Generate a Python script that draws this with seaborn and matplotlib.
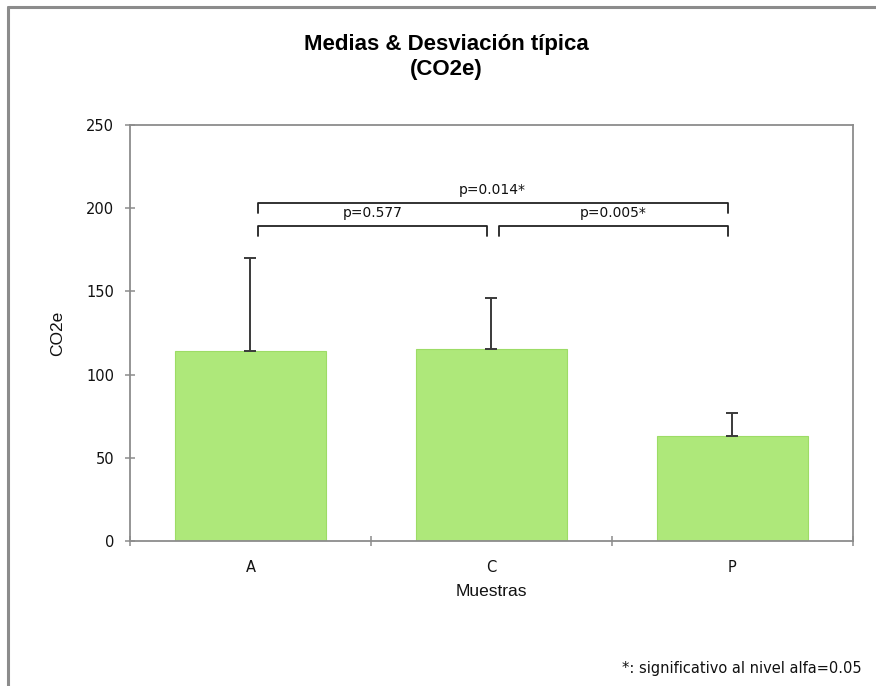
import matplotlib
matplotlib.use("Agg")
import matplotlib.pyplot as plt
import seaborn as sns
from matplotlib.lines import Line2D

# Data
muestras = ["A", "C", "P"]
medias = [114, 115.5, 63]
desviacion = [56, 30.5, 14]

# Pairwise comparisons (bracket from sample to sample) and their labels
comparaciones = [("A", "C"), ("C", "P"), ("A", "P")]
p_valores = ["p=0.577", "p=0.005*", "p=0.014*"]
alturas = [189, 189, 203]

y_ticks = [0, 50, 100, 150, 200, 250]

GREY = "#8c8c8c"
BAR_COLOR = "#aee87a"
TEXT = "#111111"

sns.set_style("white")
plt.rcParams["font.family"] = ["DejaVu Sans"]

fig = plt.figure(figsize=(8.76, 6.86), dpi=100)
ax = fig.add_axes([0.1484, 0.2114, 0.8253, 0.6064])

sns.barplot(
    x=muestras,
    y=medias,
    color=BAR_COLOR,
    saturation=1,
    width=0.63,
    errorbar=None,
    edgecolor="#9ddc66",
    linewidth=0.8,
    ax=ax,
)

# Upper-only standard deviation bars
pos = list(range(len(muestras)))
ax.errorbar(
    pos, medias,
    yerr=[[0] * len(desviacion), desviacion],
    fmt="none", ecolor="#3a3a3a", elinewidth=1.4,
    capsize=4.5, capthick=1.4, zorder=5,
)

# Significance brackets
for (a, b), label, h in zip(comparaciones, p_valores, alturas):
    x1 = muestras.index(a) + 0.03
    x2 = muestras.index(b) - 0.02
    ax.plot([x1, x1, x2, x2], [h - 6, h, h, h - 6], color="#222222", lw=1.3)
    ax.text((x1 + x2) / 2, h + 8, label, ha="center", va="center",
            fontsize=10, color=TEXT)

ax.set_xlim(-0.5, len(muestras) - 0.5)
ax.set_ylim(0, 250)
ax.set_yticks(y_ticks)
ax.set_yticklabels([str(v) for v in y_ticks], fontsize=10.5, color=TEXT)

# category separator ticks on the x axis
ax.set_xticks([i - 0.5 for i in range(len(muestras) + 1)], minor=True)
ax.tick_params(axis="x", which="major", length=0, pad=14, labelsize=10.5,
               labelcolor=TEXT, bottom=True)
ax.tick_params(axis="x", which="minor", length=7, direction="inout",
               color=GREY, width=1.1, bottom=True)
ax.tick_params(axis="y", which="major", length=7, direction="inout",
               color=GREY, width=1.1, pad=8, left=True)

for sp in ax.spines.values():
    sp.set_visible(True)
    sp.set_color(GREY)
    sp.set_linewidth(1.3)

ax.set_xlabel("Muestras", fontsize=12.5, family="Liberation Sans",
              labelpad=6, color=TEXT)
ax.set_ylabel("CO2e", fontsize=12.5, family="Liberation Sans",
              labelpad=15, color=TEXT)

fig.text(0.509, 0.917, "Medias & Desviación típica\n(CO2e)",
         ha="center", va="center", fontsize=16, fontweight="bold",
         family="Liberation Sans", linespacing=1.3, color="black")

fig.text(0.984, 0.025, "*: significativo al nivel alfa=0.05",
         ha="right", va="center", fontsize=10.5, color=TEXT)

# outer chart border (top and left edges visible in the crop)
fig.add_artist(Line2D([0.0091, 1.0], [0.9898, 0.9898], color=GREY, lw=2.2,
                      transform=fig.transFigure))
fig.add_artist(Line2D([0.0091, 0.0091], [0.0, 0.9898], color=GREY, lw=2.2,
                      transform=fig.transFigure))

fig.savefig("out.png", dpi=100)
